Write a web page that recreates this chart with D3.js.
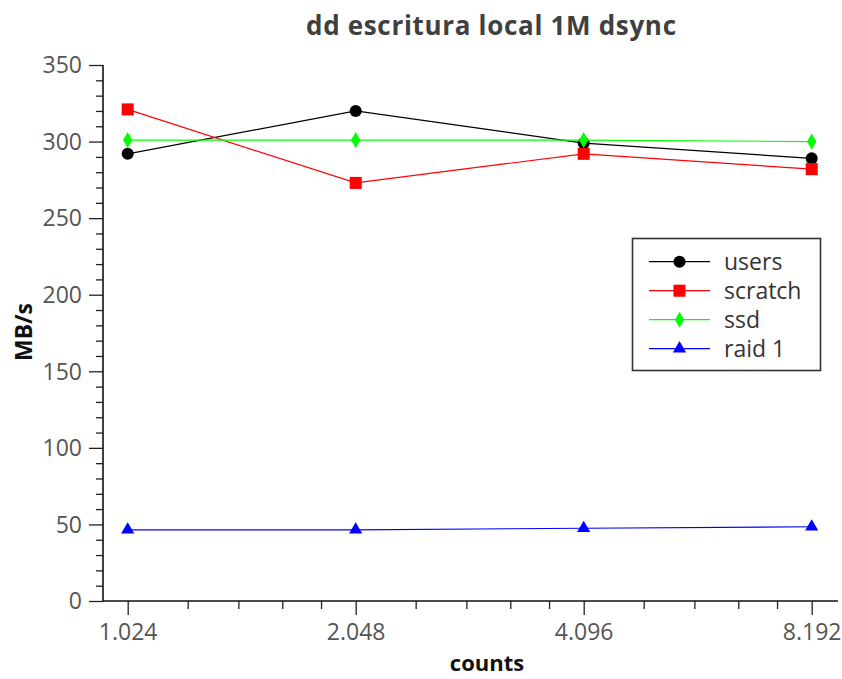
<!DOCTYPE html>
<html>
<head>
<meta charset="utf-8">
<script src="https://cdn.jsdelivr.net/npm/d3@7"></script>
<style>
  html, body { margin: 0; padding: 0; background: #fff; }
  svg { display: block; }
  text { font-family: "Open Sans", "DejaVu Sans", sans-serif; }
</style>
</head>
<body>
<svg id="chart" width="842" height="679"></svg>
<script>
// dd write throughput (MB/s) per block count
const counts = [1024, 2048, 4096, 8192];
const users   = [292, 320, 299, 289];
const scratch = [321, 273, 292, 282];
const ssd     = [301, 301, 301, 300];
const raid1   = [46.5, 46.5, 47.5, 48.5];

const seriesNames = ["users", "scratch", "ssd", "raid 1"];
const seriesValues = [users, scratch, ssd, raid1];
const seriesColors = ["#000000", "#ff0000", "#00ff00", "#0000ff"];
const seriesSymbols = [d3.symbolCircle, d3.symbolSquare, d3.symbolDiamond, d3.symbolTriangle];
const symbolSizes = [115, 145, 75, 75];

const yTicks = [0, 50, 100, 150, 200, 250, 300, 350];
const xTicks = [1024, 2048, 4096, 8192];
const xMinorFactors = [1.2, 1.4, 1.6, 1.8];

const svg = d3.select("#chart");

const axisLeft = 103, axisRight = 838, axisTop = 65, axisBottom = 601;

const x = d3.scaleLog().base(2).domain([1024, 8192]).range([127.7, 811.7]);
const y = d3.scaleLinear().domain([0, 350]).range([axisBottom, axisTop]);

const esLocale = d3.formatLocale({ decimal: ",", thousands: ".", grouping: [3], currency: ["", " €"] });
const fmt = esLocale.format(",d");

// Title
svg.append("text")
  .attr("x", 491).attr("y", 35)
  .attr("text-anchor", "middle")
  .attr("font-size", 26).attr("font-weight", "bold")
  .attr("fill", "#404040")
  .attr("textLength", 370).attr("lengthAdjust", "spacing")
  .text("dd escritura local 1M dsync");

// Y axis: major + minor ticks
const yAxisMajor = d3.axisLeft(y).tickValues(yTicks).tickSize(14).tickPadding(7).tickFormat(d3.format("d"));
const yMinor = d3.range(0, 351, 10).filter(v => v % 50 !== 0);
const gy = svg.append("g").attr("transform", `translate(${axisLeft},0)`);
gy.call(yAxisMajor);
gy.select(".domain").remove();
gy.selectAll(".tick line").attr("stroke", "#222").attr("stroke-width", 1.3);
gy.selectAll(".tick text").attr("font-size", 23).attr("fill", "#555")
  .attr("font-family", "'Open Sans', sans-serif").attr("dy", "0.34em");
const gyMinor = svg.append("g").attr("transform", `translate(${axisLeft},0)`);
gyMinor.call(d3.axisLeft(y).tickValues(yMinor).tickSize(7).tickFormat(""));
gyMinor.select(".domain").remove();
gyMinor.selectAll(".tick line").attr("stroke", "#222").attr("stroke-width", 1.3);

// X axis: major + minor ticks
const xMinor = [];
xTicks.forEach(t => xMinorFactors.forEach(f => {
  const v = t * f;
  if (x(v) > axisLeft && x(v) < axisRight) xMinor.push(v);
}));
const gx = svg.append("g").attr("transform", `translate(0,${axisBottom})`);
gx.call(d3.axisBottom(x).tickValues(xTicks).tickSize(14).tickPadding(9).tickFormat(fmt));
gx.select(".domain").remove();
gx.selectAll(".tick line").attr("stroke", "#222").attr("stroke-width", 1.3);
gx.selectAll(".tick text").attr("font-size", 23).attr("fill", "#555")
  .attr("font-family", "'Open Sans', sans-serif");
const gxMinor = svg.append("g").attr("transform", `translate(0,${axisBottom})`);
gxMinor.call(d3.axisBottom(x).tickValues(xMinor).tickSize(8).tickFormat(""));
gxMinor.select(".domain").remove();
gxMinor.selectAll(".tick line").attr("stroke", "#222").attr("stroke-width", 1.3);

// Axis lines
svg.append("line").attr("x1", axisLeft).attr("x2", axisLeft).attr("y1", axisTop).attr("y2", axisBottom + 0.5)
  .attr("stroke", "#111").attr("stroke-width", 1.6);
svg.append("line").attr("x1", axisLeft).attr("x2", axisRight).attr("y1", axisBottom).attr("y2", axisBottom)
  .attr("stroke", "#111").attr("stroke-width", 1.6);

// Axis titles
svg.append("text")
  .attr("transform", `translate(32,332) rotate(-90)`)
  .attr("text-anchor", "middle")
  .attr("font-size", 23).attr("font-weight", "bold").attr("fill", "#111")
  .text("MB/s");
svg.append("text")
  .attr("x", 487).attr("y", 671)
  .attr("text-anchor", "middle")
  .attr("font-size", 22).attr("font-weight", "bold").attr("fill", "#111")
  .text("counts");

// Series lines and markers
const line = d3.line().x((d, i) => x(counts[i])).y(d => y(d));
seriesValues.forEach((vals, s) => {
  const g = svg.append("g");
  g.append("path").datum(vals)
    .attr("d", line).attr("fill", "none")
    .attr("stroke", seriesColors[s]).attr("stroke-width", 1.2);
  g.selectAll("path.pt").data(vals).enter().append("path")
    .attr("class", "pt")
    .attr("transform", (d, i) => `translate(${x(counts[i])},${y(d)})`)
    .attr("d", d3.symbol().type(seriesSymbols[s]).size(symbolSizes[s]))
    .attr("fill", seriesColors[s]);
});

// Legend
const lg = svg.append("g");
lg.append("rect").attr("x", 632.5).attr("y", 238.5).attr("width", 188).attr("height", 132)
  .attr("fill", "#fff").attr("stroke", "#333").attr("stroke-width", 1.6);
seriesNames.forEach((name, s) => {
  const yy = 261.7 + s * 29;
  lg.append("line").attr("x1", 649).attr("x2", 710).attr("y1", yy).attr("y2", yy)
    .attr("stroke", seriesColors[s]).attr("stroke-width", 1.2);
  lg.append("path").attr("transform", `translate(679.5,${yy})`)
    .attr("d", d3.symbol().type(seriesSymbols[s]).size(symbolSizes[s]))
    .attr("fill", seriesColors[s]);
  lg.append("text").attr("x", 724).attr("y", yy).attr("dy", "0.35em")
    .attr("font-size", 23).attr("fill", "#333")
    .text(name);
});
</script>
</body>
</html>
